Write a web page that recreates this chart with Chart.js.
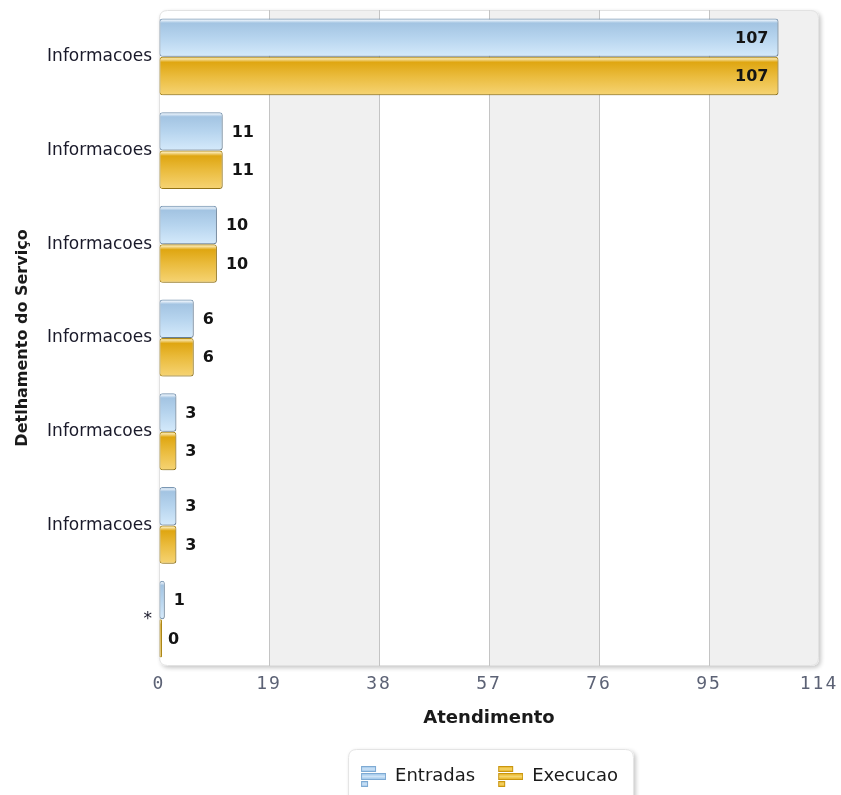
<!DOCTYPE html>
<html><head><meta charset="utf-8">
<script src="https://cdn.jsdelivr.net/npm/chart.js@4/dist/chart.umd.min.js"></script>
<style>html,body{margin:0;padding:0;background:#fff}#wrap{width:841px;height:795px}</style>
</head><body><div id="wrap"><canvas id="c" width="841" height="795"></canvas></div>
<script>
const categories = ['Informacoes','Informacoes','Informacoes','Informacoes','Informacoes','Informacoes','*'];
const entradas = [107, 11, 10, 6, 3, 3, 1];
const execucao = [107, 11, 10, 6, 3, 3, 0];
const seriesNames = ['Entradas', 'Execucao'];
const xTicks = [0, 19, 38, 57, 76, 95, 114];
const xTitle = 'Atendimento';
const yTitle = 'Detlhamento do Serviço';

function rr(ctx, x, y, w, h, r) {
  ctx.beginPath();
  ctx.moveTo(x + r, y);
  ctx.lineTo(x + w - r, y); ctx.quadraticCurveTo(x + w, y, x + w, y + r);
  ctx.lineTo(x + w, y + h - r); ctx.quadraticCurveTo(x + w, y + h, x + w - r, y + h);
  ctx.lineTo(x + r, y + h); ctx.quadraticCurveTo(x, y + h, x, y + h - r);
  ctx.lineTo(x, y + r); ctx.quadraticCurveTo(x, y, x + r, y);
  ctx.closePath();
}

function legendIcon(light, main, dark) {
  const c = document.createElement('canvas');
  c.width = 26; c.height = 22;
  const g = c.getContext('2d');
  const bar = (x, y, w, h) => {
    const gr = g.createLinearGradient(0, y, 0, y + h);
    gr.addColorStop(0, main); gr.addColorStop(0.5, light); gr.addColorStop(1, main);
    g.fillStyle = gr; g.fillRect(x, y, w, h);
    g.strokeStyle = dark; g.lineWidth = 1; g.strokeRect(x + 0.5, y + 0.5, w - 1, h - 1);
  };
  bar(1, 1, 15, 6);
  bar(1, 8, 25, 7);
  bar(1, 16, 7, 6);
  return c;
}
const iconBlue = legendIcon('#cfe4f7', '#8fbde6', '#7eaad3');
const iconGold = legendIcon('#f5d66e', '#e3a90f', '#c99610');

const framePlugin = {
  id: 'frame',
  beforeDraw(chart) {
    const ctx = chart.ctx, a = chart.chartArea, xs = chart.scales.x;
    ctx.save();
    ctx.fillStyle = '#fff';
    ctx.fillRect(0, 0, chart.width, chart.height);
    ctx.shadowColor = 'rgba(0,0,0,0.22)';
    ctx.shadowBlur = 4; ctx.shadowOffsetX = 2; ctx.shadowOffsetY = 2;
    rr(ctx, a.left, a.top, a.right - a.left, a.bottom - a.top, 8);
    ctx.fillStyle = '#fff'; ctx.fill();
    ctx.restore();
    ctx.save();
    rr(ctx, a.left, a.top, a.right - a.left, a.bottom - a.top, 8);
    ctx.clip();
    ctx.fillStyle = '#f0f0f0';
    for (let i = 1; i < xTicks.length - 1; i += 2) {
      const x0 = xs.getPixelForValue(xTicks[i]), x1 = xs.getPixelForValue(xTicks[i + 1]);
      ctx.fillRect(x0, a.top, x1 - x0, a.bottom - a.top);
    }
    ctx.restore();
    ctx.save();
    rr(ctx, a.left + 0.5, a.top + 0.5, a.right - a.left - 1, a.bottom - a.top - 1, 8);
    ctx.strokeStyle = '#e2e2e2'; ctx.lineWidth = 1; ctx.stroke();
    ctx.restore();
    const lg = chart.legend;
    if (lg && lg.legendHitBoxes && lg.legendHitBoxes.length) {
      let minX = Infinity, maxX = -Infinity, minY = Infinity;
      lg.legendHitBoxes.forEach(h => { minX = Math.min(minX, h.left); maxX = Math.max(maxX, h.left + h.width); minY = Math.min(minY, h.top); });
      const fx = minX - 12, fy = minY - 18, fw = maxX - minX + 28, fh = chart.height - fy + 20;
      ctx.save();
      ctx.shadowColor = 'rgba(0,0,0,0.22)';
      ctx.shadowBlur = 4; ctx.shadowOffsetX = 2; ctx.shadowOffsetY = 2;
      rr(ctx, fx, fy, fw, fh, 8);
      ctx.fillStyle = '#fff'; ctx.fill();
      ctx.restore();
      ctx.save();
      rr(ctx, fx + 0.5, fy + 0.5, fw - 1, fh, 8);
      ctx.strokeStyle = '#e4e4e4'; ctx.stroke();
      ctx.restore();
    }
  }
};

const gradPlugin = {
  id: 'grad',
  beforeDatasetsDraw(chart) {
    const ctx = chart.ctx;
    chart.data.datasets.forEach((ds, di) => {
      chart.getDatasetMeta(di).data.forEach(el => {
        const top = el.y - el.height / 2, bot = el.y + el.height / 2;
        const g = ctx.createLinearGradient(0, top, 0, bot);
        ds.gradStops.forEach(s => g.addColorStop(s[0], s[1]));
        el.options.backgroundColor = g;
      });
    });
  },
  beforeDatasetDraw(chart) {
    const ctx = chart.ctx;
    ctx.save();
    ctx.shadowColor = 'rgba(0,0,0,0.2)';
    ctx.shadowBlur = 3; ctx.shadowOffsetX = 2; ctx.shadowOffsetY = 2;
  },
  afterDatasetDraw(chart) { chart.ctx.restore(); }
};

const labelPlugin = {
  id: 'vlabels',
  afterDatasetsDraw(chart) {
    const ctx = chart.ctx, xs = chart.scales.x;
    ctx.save();
    ctx.font = 'bold 16px "DejaVu Sans"';
    ctx.fillStyle = '#141414';
    ctx.textBaseline = 'middle';
    chart.data.datasets.forEach((ds, di) => {
      chart.getDatasetMeta(di).data.forEach((el, i) => {
        const v = ds.data[i];
        const txt = String(v);
        const w = ctx.measureText(txt).width;
        const px = xs.getPixelForValue(v);
        if (px + 9 + w > chart.chartArea.right - 8) {
          ctx.textAlign = 'right'; ctx.fillText(txt, px - 10, el.y + 1);
        } else {
          ctx.textAlign = 'left'; ctx.fillText(txt, px + 9, el.y + 1);
        }
      });
    });
    ctx.restore();
  }
};

new Chart(document.getElementById('c'), {
  type: 'bar',
  data: {
    labels: categories,
    datasets: [
      {
        label: seriesNames[0], data: entradas,
        backgroundColor: () => '#b5d3ee', borderColor: '#7b98b4',
        gradStops: [[0, '#8fb0cc'], [0.05, '#e2edf8'], [0.12, '#a3c4e2'], [0.5, '#b6d4ee'], [1, '#d5eafb']],
        pointStyle: iconBlue
      },
      {
        label: seriesNames[1], data: execucao,
        backgroundColor: () => '#ebbc3c', borderColor: '#b08a18',
        gradStops: [[0, '#d8a818'], [0.05, '#f8e4a8'], [0.14, '#dfa611'], [0.5, '#eabb3c'], [1, '#f6d474']],
        pointStyle: iconGold
      }
    ]
  },
  options: {
    indexAxis: 'y',
    responsive: false,
    animation: false,
    events: [],
    layout: { padding: { left: 0, right: 22, top: 10, bottom: 0 } },
    datasets: { bar: { categoryPercentage: 0.82, barPercentage: 1, borderWidth: 1, borderRadius: 3, borderSkipped: false, minBarLength: 3 } },
    scales: {
      x: {
        min: 0, max: 114,
        afterBuildTicks(s) { s.ticks = xTicks.map(v => ({ value: v })); },
        afterFit(s) {
          s.height = 79; s.paddingLeft = 0; s.paddingRight = 0;
          if (!s._lsWrapped) {
            s._lsWrapped = true;
            const orig = s.drawLabels.bind(s);
            s.drawLabels = function (area) {
              const c = this.ctx; c.save(); c.letterSpacing = '2px'; orig(area); c.restore();
            };
          }
        },
        grid: { color: ctx => (ctx.index === 0 || ctx.index === xTicks.length - 1) ? 'rgba(0,0,0,0)' : '#c4c4c4', drawTicks: false },
        border: { display: false },
        ticks: { padding: 8, color: '#5c6275', font: { family: '"DejaVu Sans Mono"', size: 18 } },
        title: { display: true, text: xTitle, color: '#1a1a1a', font: { family: '"DejaVu Sans"', size: 18, weight: 'bold' }, padding: { top: 10, bottom: 16 } }
      },
      y: {
        afterFit(s) { s.width = 159; s.paddingTop = 0; s.paddingBottom = 0; },
        grid: { display: false, drawTicks: false },
        border: { display: false },
        ticks: { padding: 7, color: '#1a1a2a', font: { family: '"DejaVu Sans"', size: 17 } },
        title: { display: true, text: yTitle, color: '#1a1a1a', font: { family: '"DejaVu Sans"', size: 16, weight: 'bold' }, padding: { top: 13 } }
      }
    },
    plugins: {
      tooltip: { enabled: false },
      legend: {
        position: 'bottom', fullSize: false,
        labels: { usePointStyle: true, pointStyleWidth: 26, boxWidth: 26, boxHeight: 22, padding: 22, color: '#1a1a1a', font: { family: '"DejaVu Sans"', size: 18 } }
      }
    }
  },
  plugins: [framePlugin, gradPlugin, labelPlugin]
});
</script></body></html>
